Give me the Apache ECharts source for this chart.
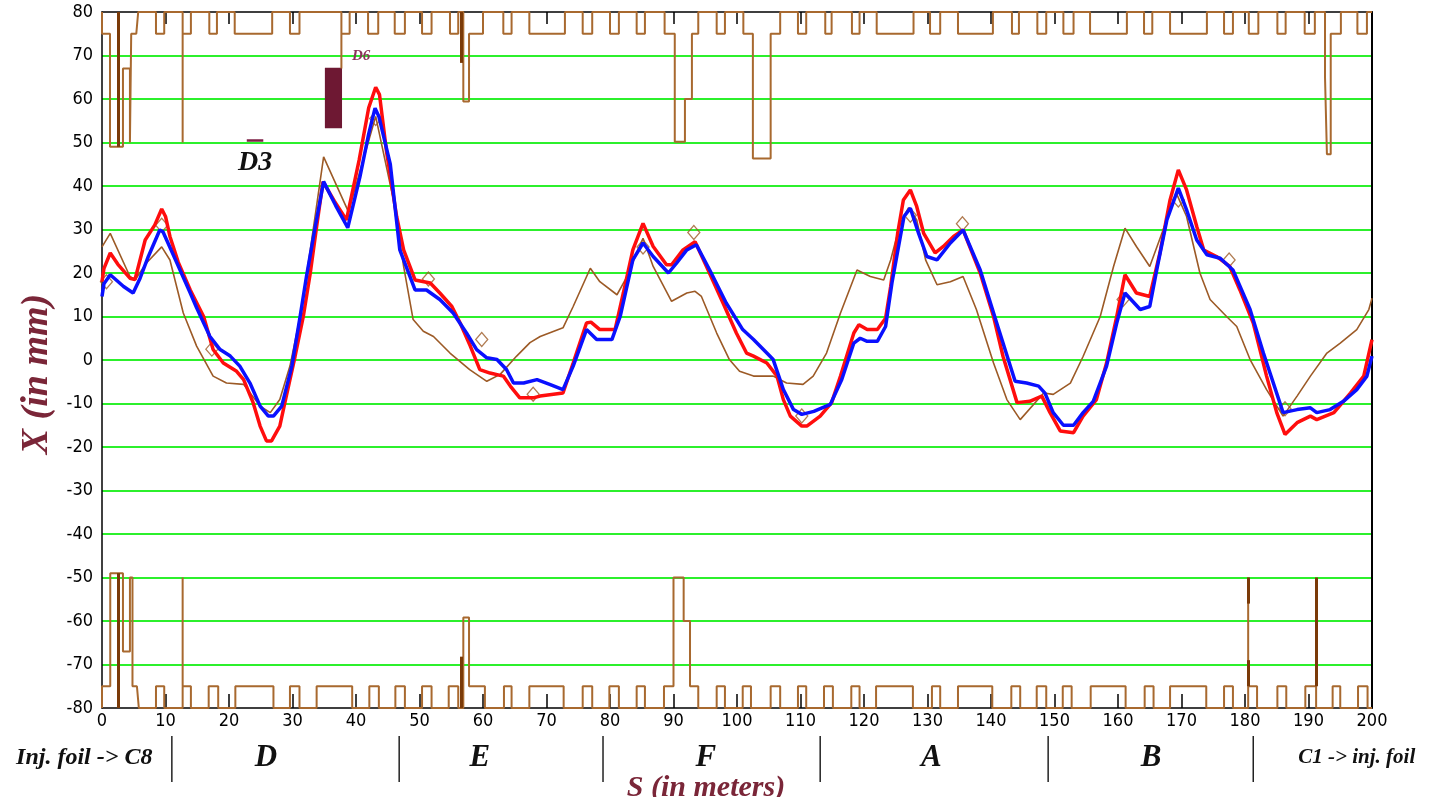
<!DOCTYPE html>
<html><head><meta charset="utf-8">
<script src="https://cdn.jsdelivr.net/npm/echarts@6/dist/echarts.min.js"></script>
<style>html,body{margin:0;padding:0;background:#fff}#c{width:1432px;height:797px}</style>
</head><body><div id="c"></div><script>
// ---- DATA ----
const redOrbit = [[0,18],[0.3,21],[1.3,24.6],[2.5,22],[4.4,18.8],[5.2,18.5],[6.8,27.6],[8.3,31],[9.4,34.7],[10,33],[10.7,28.4],[12,22.5],[13.9,16.1],[16,10],[17.5,2.4],[19.1,-0.7],[21.2,-2.6],[22.3,-4.5],[23.8,-9.8],[24.9,-15.2],[25.9,-18.6],[26.7,-18.6],[28,-15.2],[28.8,-9.8],[30.4,0.8],[31.7,10],[32.8,20],[33.8,30.7],[34.8,41],[36.6,36.5],[38.5,32.2],[40.5,46],[42,58],[43.1,62.7],[43.7,61],[44.8,48],[46.4,33],[47.5,25.3],[49.3,18.4],[51.7,17.7],[53.2,15.4],[55.1,12.3],[56.4,8.5],[58,3.2],[59.5,-2.2],[61.1,-3],[63.2,-3.7],[64.3,-6],[65.8,-8.7],[67.9,-8.7],[69,-8.3],[72.6,-7.6],[74.2,-0.7],[76.3,8.5],[77,8.7],[78.4,7],[80.8,7],[82.1,15.4],[83.6,25.3],[85.2,31.4],[86.8,26.1],[88.9,21.9],[89.7,21.9],[91.5,25.3],[93.4,27.2],[95.2,21.5],[97.8,13.1],[99.9,6.2],[101.5,1.6],[102.6,0.9],[104.7,-0.7],[106.3,-3.7],[107.3,-9.1],[108.4,-12.9],[110.2,-15.2],[111,-15.2],[113.1,-12.9],[114.9,-9.8],[116.3,-3.7],[118.4,6.2],[119.2,8.1],[120.5,7],[122.1,7],[123.4,9.6],[124.2,16.9],[125.3,29.1],[126.2,36.8],[127.3,39.1],[128.3,35.3],[129.4,29.1],[131.2,24.6],[132.5,26.1],[134.1,28.4],[135.6,29.9],[138.3,20],[140.4,10],[141.9,0.8],[144.1,-9.8],[146.1,-9.5],[148,-8.3],[149.3,-12.1],[150.9,-16.3],[153,-16.7],[154.5,-12.9],[156.6,-9.1],[158.2,-0.7],[159.8,10],[161.1,19.6],[162.9,15.4],[165,14.6],[166.6,24.6],[168.2,36.8],[169.5,43.7],[170.8,39.1],[172.4,30.7],[173.5,25.3],[175.5,23.8],[177.6,21.5],[179.2,16.1],[181.3,8.5],[183.4,-3.7],[185,-12.1],[186.3,-17.1],[188.2,-14.4],[190.3,-12.9],[191.3,-13.7],[194,-12.1],[196.6,-7.6],[198.7,-3.7],[200,4.7]];

const blueOrbit = [[0,14.6],[0.3,17.5],[1.3,19.6],[3.4,16.9],[4.9,15.4],[6,18.8],[7.3,23.8],[9.1,29.9],[9.6,29.5],[11.8,22.3],[13.9,15.4],[14.9,12],[17,5.4],[18.6,2.4],[20.2,0.9],[21.7,-1.4],[23.3,-5.3],[24.9,-10.6],[26.2,-12.9],[27,-12.9],[28.3,-10.6],[29.9,-1.4],[31.2,10],[32.2,19.2],[33.5,30],[34.9,41],[36.8,35.5],[38.7,30.4],[40.6,42],[42,52],[43,57.9],[43.6,56],[45.4,45],[46.9,25.3],[49.3,16.1],[51.1,16.1],[53.2,13.9],[55.3,10.8],[57.4,6.2],[59,2.4],[60.6,0.5],[62.2,0.1],[63.7,-2.2],[64.8,-5.3],[66.4,-5.3],[68.5,-4.5],[70.5,-5.6],[72.6,-6.8],[74.2,-1.4],[76.3,7],[77.9,4.7],[80.3,4.7],[81.6,10],[83.6,23],[85.2,26.9],[86.8,23.8],[89.2,20],[90.5,22.3],[92.1,25.3],[93.6,26.5],[95.7,20.7],[98.3,13.1],[100.9,7],[102.6,4.7],[104.7,1.6],[105.7,0.1],[107.3,-6.8],[108.9,-11.4],[110.2,-12.5],[112.1,-11.8],[114.7,-10.2],[116.5,-4.5],[118.4,3.9],[119.4,5],[120.5,4.3],[122.1,4.3],[123.4,7.7],[124.4,17.7],[126.3,33],[127.3,34.9],[128.6,29.1],[129.9,23.8],[131.5,23],[133.6,26.9],[135.6,29.9],[138.3,20.7],[140.9,8.5],[143.8,-4.9],[145.6,-5.3],[147.5,-6],[148.5,-7.6],[149.8,-12.1],[151.4,-15],[153,-15],[154.5,-12.1],[156.1,-9.5],[158.2,-1.4],[159.8,8.5],[161.1,15.4],[163.5,11.6],[165,12.3],[166.1,20.7],[167.7,32.2],[169.5,39.5],[170.8,34.5],[172.4,27.6],[174,24.2],[176.1,23.4],[178.1,20.7],[180.8,11.6],[182.9,1.6],[186,-12.1],[188.2,-11.4],[190.3,-11],[191.3,-12.1],[193.4,-11.4],[195.5,-9.5],[197.6,-6.8],[199.2,-3.7],[200,0.9]];

const brownOrbit = [[0,26],[1.3,29.1],[4.4,19.2],[5.2,18.4],[7,22.3],[9.4,26],[10.7,23],[12.8,10.8],[14.9,3.2],[17.5,-3.7],[19.6,-5.3],[22.3,-5.6],[24.9,-10.6],[26.5,-12.1],[28,-9.1],[29.6,-1.4],[31.2,10],[32.8,25.3],[34.9,46.7],[38.8,34.1],[43.1,56],[45.9,36.8],[47.5,21.5],[49,9.3],[50.6,6.6],[52.2,5.4],[54.8,1.6],[57.9,-2.2],[60.6,-4.9],[62.7,-3.3],[65.3,0.9],[67.4,4],[69,5.4],[72.6,7.4],[74.2,12.3],[76.9,21.1],[78.4,18],[81.1,15],[82.7,19.2],[84.2,24.6],[85.2,28],[86.8,21.5],[89.7,13.5],[92.1,15.4],[93.4,15.8],[94.4,14.6],[96.8,6.2],[98.8,0.1],[100.4,-2.6],[102.6,-3.7],[105.7,-3.7],[107.8,-5.3],[110.4,-5.6],[112,-3.7],[114.1,1.6],[116.3,10.8],[118.9,20.7],[121,19.2],[123.1,18.4],[124.2,23],[125.7,31.4],[127,35],[128.3,32.2],[129.7,23],[131.5,17.3],[133.6,18],[135.6,19.2],[137.7,11.6],[140.4,-0.7],[142.5,-9.1],[144.6,-13.7],[148.3,-7.6],[149.8,-7.9],[152.5,-5.3],[154.5,0.8],[157.2,10],[159.3,21.5],[161.1,30.3],[162.9,26.1],[165,21.5],[167.1,29.9],[169.2,38.3],[170.8,33],[172.9,20],[174.5,13.9],[177.1,10],[178.7,7.7],[180.8,0.1],[183.4,-6.8],[186,-12.9],[188.2,-8.3],[190.3,-3.7],[192.9,1.6],[195,3.9],[197.6,7],[199.5,11.6],[200,14.2]];

const bpmMarks = [[0.7,18],[9.4,31],[17.3,2.5],[43.1,55.5],[51.4,18.6],[59.8,4.7],[67.9,-7.9],[85.2,26],[93.2,29.3],[110.2,-12.9],[127.3,33.3],[135.5,31.3],[160.8,13.9],[169.5,36.8],[177.5,23],[186.3,-11.2]];

// aperture notches: lower path of each notch (the outline returns to the edge at both ends)
const topNotches = [
 [[0,75],[1.26,75],[1.26,49],[3.3,49],[3.3,67],[4.4,67],[4.4,50],[4.6,50],[4.6,75],[5.4,75],[5.7,80]],
 [[8.5,75],[9.8,75]], [[12.7,75],[12.7,50],[12.7,75],[14.0,75]], [[16.9,75],[18.1,75]],
 [[20.9,75],[26.8,75]], [[29.6,75],[31.1,75]], [[37.7,67],[37.7,75],[39.0,75]],
 [[41.9,75],[43.5,75]], [[46.1,75],[47.7,75]], [[50.4,75],[51.9,75]], [[54.8,75],[56.1,75]],
 [[56.9,59.4],[57.8,59.4],[57.8,75],[60.0,75]], [[63.2,75],[64.5,75]], [[67.3,75],[72.9,75]],
 [[75.7,75],[77.2,75]], [[80.0,75],[81.4,75]], [[84.2,75],[85.5,75]],
 [[88.6,75],[90.2,75],[90.2,50.2],[91.8,50.2],[91.8,60],[92.9,60],[92.9,75],[93.9,75]],
 [[96.8,75],[98.1,75]], [[101,75],[102.5,75],[102.5,46.3],[105.3,46.3],[105.3,75],[106.8,75]],
 [[109.6,75],[110.9,75]], [[113.9,75],[114.9,75]], [[118.1,75],[119.3,75]], [[122,75],[127.8,75]],
 [[130.4,75],[132,75]], [[134.8,75],[140.3,75]], [[143.3,75],[144.4,75]], [[147.3,75],[148.7,75]],
 [[151.4,75],[153,75]], [[155.6,75],[161.4,75]], [[164.1,75],[165.4,75]], [[168.2,75],[174,75]],
 [[176.7,75],[178.1,75]], [[180.6,75],[182.1,75]], [[185.1,75],[186.4,75]], [[189.4,75],[191,75]],
 [[192.6,65],[192.9,65],[192.9,47.3],[193.5,47.3],[193.5,75],[195.1,75]], [[197.7,75],[199.2,75]]
];
const bottomNotches = [
 [[0,-75],[1.3,-75],[1.3,-49],[3.3,-49],[3.3,-67],[4.4,-67],[4.4,-50],[4.8,-50],[4.8,-75],[5.5,-75],[5.8,-80]],
 [[8.5,-75],[9.8,-75]], [[12.7,-75],[12.7,-50],[12.7,-75],[14.0,-75]], [[16.8,-75],[18.3,-75]],
 [[21.0,-75],[27.0,-75]], [[29.6,-75],[31.1,-75]], [[33.8,-75],[39.4,-75]], [[42.1,-75],[43.6,-75]],
 [[46.2,-75],[47.7,-75]], [[50.4,-75],[51.9,-75]], [[54.6,-75],[56.1,-75]],
 [[56.9,-59.2],[57.8,-59.2],[57.8,-75],[60.3,-75]], [[63.3,-75],[64.5,-75]], [[67.3,-75],[72.7,-75]],
 [[75.7,-75],[77.2,-75]], [[79.9,-75],[81.4,-75]], [[84.2,-75],[85.5,-75]],
 [[88.5,-75],[90,-75],[90,-50],[91.6,-50],[91.6,-60],[92.6,-60],[92.6,-75],[93.9,-75]],
 [[96.8,-75],[98.1,-75]], [[100.9,-75],[102.2,-75]], [[105.3,-75],[106.8,-75]], [[109.6,-75],[110.9,-75]],
 [[113.7,-75],[115.1,-75]], [[118,-75],[119.3,-75]], [[121.9,-75],[127.7,-75]], [[130.7,-75],[132,-75]],
 [[134.8,-75],[140.2,-75]], [[143.2,-75],[144.6,-75]], [[147.2,-75],[148.7,-75]], [[151.3,-75],[152.7,-75]],
 [[155.7,-75],[161.2,-75]], [[164.2,-75],[165.6,-75]], [[168.2,-75],[173.9,-75]], [[176.7,-75],[178.1,-75]],
 [[180.5,-75],[180.5,-50],[180.5,-75],[181.9,-75]], [[185.1,-75],[186.5,-75]], [[189.5,-75],[191.2,-75]],
 [[193.8,-75],[195,-75]], [[197.8,-75],[199.3,-75]]
];
// dark septum-like segments: [s, from, to]
const darkSegments = [[2.6,80,49],[56.6,80,68.3],[2.6,-80,-49],[56.6,-80,-68.2],[180.5,-50,-56],[180.5,-69,-75],[191.2,-75,-50]];
const d3Bar = [[22.8,50.5],[25.4,50.5]];
const d6Box = [[35.1,67.2],[37.8,53.3]];
const labelD3 = ['D3', 24.1, 45.4];
const labelD6 = ['D6', 40.8, 69.8];
const sectionNames = ['Inj. foil -> C8','D','E','F','A','B','C1 -> inj. foil'];
const sectionCenters = [-2.8, 25.8, 59.5, 95.1, 130.6, 165.2, 197.6];
const sectionBounds = [11, 46.8, 78.9, 113.1, 149, 181.3];

// ---- BUILD ----
function buildAperture(notches, edge){
  const pts = [[0, edge]];
  notches.forEach(n => { pts.push([n[0][0], edge]); n.forEach(p => pts.push(p)); pts.push([n[n.length-1][0], edge]); });
  pts.push([200, edge]);
  return pts;
}
const apColor = '#a8692f';
const chart = echarts.init(document.getElementById('c'));
const labelFont = "'Liberation Sans Narrow','DejaVu Sans Condensed','Liberation Sans',sans-serif";
const serif = "'Liberation Serif','DejaVu Serif',serif";
chart.setOption({
  animation:false,
  backgroundColor:'#fff',
  grid:{left:102,right:60,top:12,bottom:89,containLabel:false},
  xAxis:[
    {type:'value',min:0,max:200,interval:10,position:'bottom',
     axisLine:{show:true,onZero:false,lineStyle:{color:'#000',width:1.5}},
     axisTick:{show:true,inside:true,length:14,lineStyle:{color:'#000',width:1.5}},
     axisLabel:{show:true,color:'#000',fontSize:18,fontFamily:labelFont,margin:4},
     splitLine:{show:false}},
    {type:'value',min:0,max:200,interval:10,position:'top',
     axisLine:{show:true,onZero:false,lineStyle:{color:'#000',width:1.5}},
     axisTick:{show:true,inside:true,length:12,lineStyle:{color:'#000',width:1.5}},
     axisLabel:{show:false},splitLine:{show:false}}
  ],
  yAxis:[
    {type:'value',min:-80,max:80,interval:10,position:'left',
     axisLine:{show:true,onZero:false,lineStyle:{color:'#000',width:1.5}},
     axisTick:{show:false},
     axisLabel:{show:true,color:'#000',fontSize:18,fontFamily:labelFont,margin:9},
     splitLine:{show:true,showMinLine:false,showMaxLine:false,lineStyle:{color:'#2cf02c',width:2}}},
    {type:'value',min:-80,max:80,interval:10,position:'right',
     axisLine:{show:true,onZero:false,lineStyle:{color:'#000',width:2}},
     axisTick:{show:false},axisLabel:{show:false},splitLine:{show:false}}
  ],
  series:[
    {type:'line',name:'top aperture',data:buildAperture(topNotches,80),symbol:'none',clip:false,silent:true,
     lineStyle:{color:apColor,width:2},z:3,
     markLine:{silent:true,symbol:['none','none'],label:{show:false},
       lineStyle:{color:'#7a3a08',width:3,type:'solid'},
       data:darkSegments.map(d=>[{coord:[d[0],d[1]]},{coord:[d[0],d[2]]}]).concat([[{coord:d3Bar[0],lineStyle:{color:'#7d1f45',width:2.5}},{coord:d3Bar[1]}]])},
     markArea:{silent:true,itemStyle:{color:'#6e1833'},data:[[{coord:d6Box[0]},{coord:d6Box[1]}]]}},
    {type:'line',name:'bottom aperture',data:buildAperture(bottomNotches,-80),symbol:'none',clip:false,silent:true,
     lineStyle:{color:apColor,width:2},z:3},
    {type:'line',name:'orbit 3',data:brownOrbit,symbol:'none',lineStyle:{color:'#9c5a26',width:1.6},z:4},
    {type:'scatter',name:'BPM',data:bpmMarks,symbol:'diamond',symbolSize:[12,14],
     itemStyle:{color:'rgba(255,255,255,0)',borderColor:'#9c5a26',borderWidth:1.3},z:4},
    {type:'line',name:'orbit 1',data:redOrbit,symbol:'none',lineStyle:{color:'#ff0d0d',width:3.5},z:5},
    {type:'line',name:'orbit 2',data:blueOrbit,symbol:'none',lineStyle:{color:'#0a10ff',width:3.5},z:6}
  ]
});

function px(s, v){ return chart.convertToPixel({xAxisIndex:0,yAxisIndex:0},[s,v]); }
const g = [];
const p3 = px(labelD3[1], labelD3[2]);
g.push({type:'text',x:p3[0],y:p3[1],style:{text:labelD3[0],textAlign:'center',textVerticalAlign:'middle',font:"bold italic 28px "+serif,fill:'#111'}});
const p6 = px(labelD6[1], labelD6[2]);
g.push({type:'text',x:p6[0],y:p6[1],style:{text:labelD6[0],textAlign:'center',textVerticalAlign:'middle',font:"bold italic 15px "+serif,fill:'#8a3358'}});
sectionNames.forEach((t,i)=>{
  const p = px(sectionCenters[i], 0);
  const size = t.length === 1 ? 31 : (i === 0 ? 24 : 21);
  g.push({type:'text',x:p[0],y:758,style:{text:t,textAlign:'center',textVerticalAlign:'middle',
    font:"bold italic "+size+"px "+serif,fill:'#111'}});
});
sectionBounds.forEach(s=>{
  const p = px(s, 0);
  g.push({type:'line',shape:{x1:p[0],y1:736,x2:p[0],y2:782},style:{stroke:'#222',lineWidth:1.5}});
});
g.push({type:'text',x:37,y:374,rotation:Math.PI/2,style:{text:'X (in mm)',textAlign:'center',textVerticalAlign:'middle',font:"bold italic 38px "+serif,fill:'#7a2638'}});
g.push({type:'text',x:706,y:788,style:{text:'S (in meters)',textAlign:'center',textVerticalAlign:'middle',font:"bold italic 30px "+serif,fill:'#7a2638'}});
chart.setOption({graphic:g});
</script></body></html>
